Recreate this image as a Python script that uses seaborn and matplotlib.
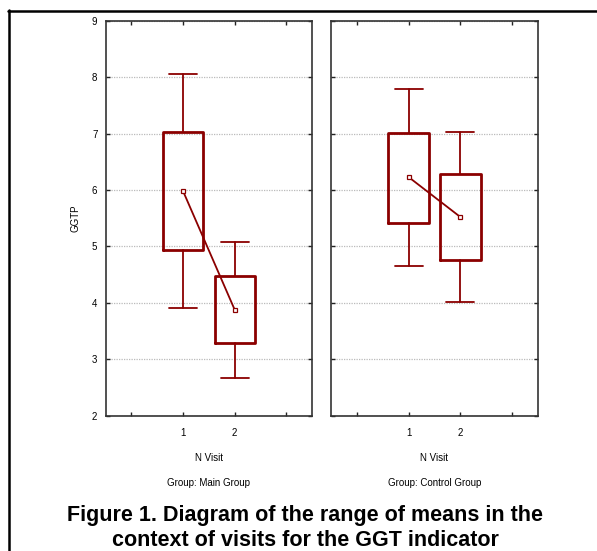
import matplotlib
matplotlib.use("Agg")
import matplotlib.pyplot as plt
from matplotlib.lines import Line2D
import seaborn as sns
import pandas as pd

# mean, box = mean +/- SE, whiskers = mean +/- 1.96*SE
visits = [1, 2]
main_mean = [5.98, 3.88]
main_box_lo = [4.94, 3.28]
main_box_hi = [7.03, 4.48]
main_whis_lo = [3.91, 2.67]
main_whis_hi = [8.05, 5.07]

ctrl_mean = [6.23, 5.52]
ctrl_box_lo = [5.42, 4.76]
ctrl_box_hi = [7.01, 6.29]
ctrl_whis_lo = [4.65, 4.01]
ctrl_whis_hi = [7.79, 7.03]

groups = ["Main Group", "Control Group"]
y_ticks = [2, 3, 4, 5, 6, 7, 8, 9]

sns.set_style("ticks")
plt.rcParams['font.family'] = ['Liberation Sans', 'DejaVu Sans']
plt.rcParams['text.color'] = 'black'
plt.rcParams['axes.labelcolor'] = 'black'

W, H = 597, 551
fig = plt.figure(figsize=(W / 100, H / 100), dpi=100)

col = "#8b0000"


def draw_panel(ax, means, blo, bhi, wlo, whi, first):
    stats = []
    for i in range(len(visits)):
        stats.append(dict(med=means[i], q1=blo[i], q3=bhi[i],
                          whislo=wlo[i], whishi=whi[i], fliers=[]))
    ax.bxp(stats, positions=visits, widths=0.78, capwidths=0.54,
           showfliers=False, manage_ticks=False,
           boxprops=dict(color=col, linewidth=2.0),
           whiskerprops=dict(color=col, linewidth=1.3),
           capprops=dict(color=col, linewidth=1.3),
           medianprops=dict(linewidth=0))
    df = pd.DataFrame({"visit": visits, "mean": means})
    sns.lineplot(data=df, x="visit", y="mean", ax=ax, color=col, linewidth=1.3,
                 marker="s", markersize=3, markerfacecolor="white",
                 markeredgecolor=col, markeredgewidth=0.9, zorder=5)
    ax.set_xlim(-0.5, 3.5)
    ax.set_ylim(2, 9)
    ax.set_yticks(y_ticks)
    ax.set_xticks([0, 1, 2, 3])
    ax.set_xticklabels(["", "1", "2", ""])
    ax.yaxis.grid(True, linestyle=(0, (1, 1)), color="#bbbbbb", linewidth=0.9)
    ax.xaxis.grid(False)
    ax.tick_params(direction="in", length=3, width=1, top=True, right=True,
                   labelsize=7, colors="#222222", labelcolor="black")
    ax.tick_params(axis="x", pad=9)
    ax.tick_params(axis="y", pad=6)
    for s in ax.spines.values():
        s.set_visible(True)
        s.set_color("#333333")
        s.set_linewidth(1.2)
    ax.set_xlabel("N Visit", fontsize=7, labelpad=11)
    if first:
        ax.set_ylabel("GGTP", fontsize=7, labelpad=8)
    else:
        ax.set_ylabel("")
        ax.tick_params(labelleft=False)
    ax.set_axisbelow(True)


top, bot = 20.7, 415.7
ax1 = fig.add_axes([105.7 / W, 1 - bot / H, (312 - 105.7) / W, (bot - top) / H])
ax2 = fig.add_axes([330.7 / W, 1 - bot / H, (538.3 - 330.7) / W, (bot - top) / H])

draw_panel(ax1, main_mean, main_box_lo, main_box_hi, main_whis_lo, main_whis_hi, True)
draw_panel(ax2, ctrl_mean, ctrl_box_lo, ctrl_box_hi, ctrl_whis_lo, ctrl_whis_hi, False)

fig.text((105.7 + 312) / 2 / W, 1 - 483 / H, "Group: " + groups[0], fontsize=7,
         ha="center", va="center")
fig.text((330.7 + 538.3) / 2 / W, 1 - 483 / H, "Group: " + groups[1], fontsize=7,
         ha="center", va="center")

fig.text(305 / W, 1 - 528 / H,
         "Figure 1. Diagram of the range of means in the\ncontext of visits for the GGT indicator",
         fontsize=15.5, fontweight="bold", ha="center", va="center", linespacing=1.3,
         color="black")

# outer frame (top and left only)
fig.add_artist(Line2D([8 / W, 1], [1 - 10.5 / H, 1 - 10.5 / H], color="black", linewidth=1.8))
fig.add_artist(Line2D([9 / W, 9 / W], [1 - 10 / H, 0], color="black", linewidth=1.8))

fig.savefig("out.png", dpi=100)
